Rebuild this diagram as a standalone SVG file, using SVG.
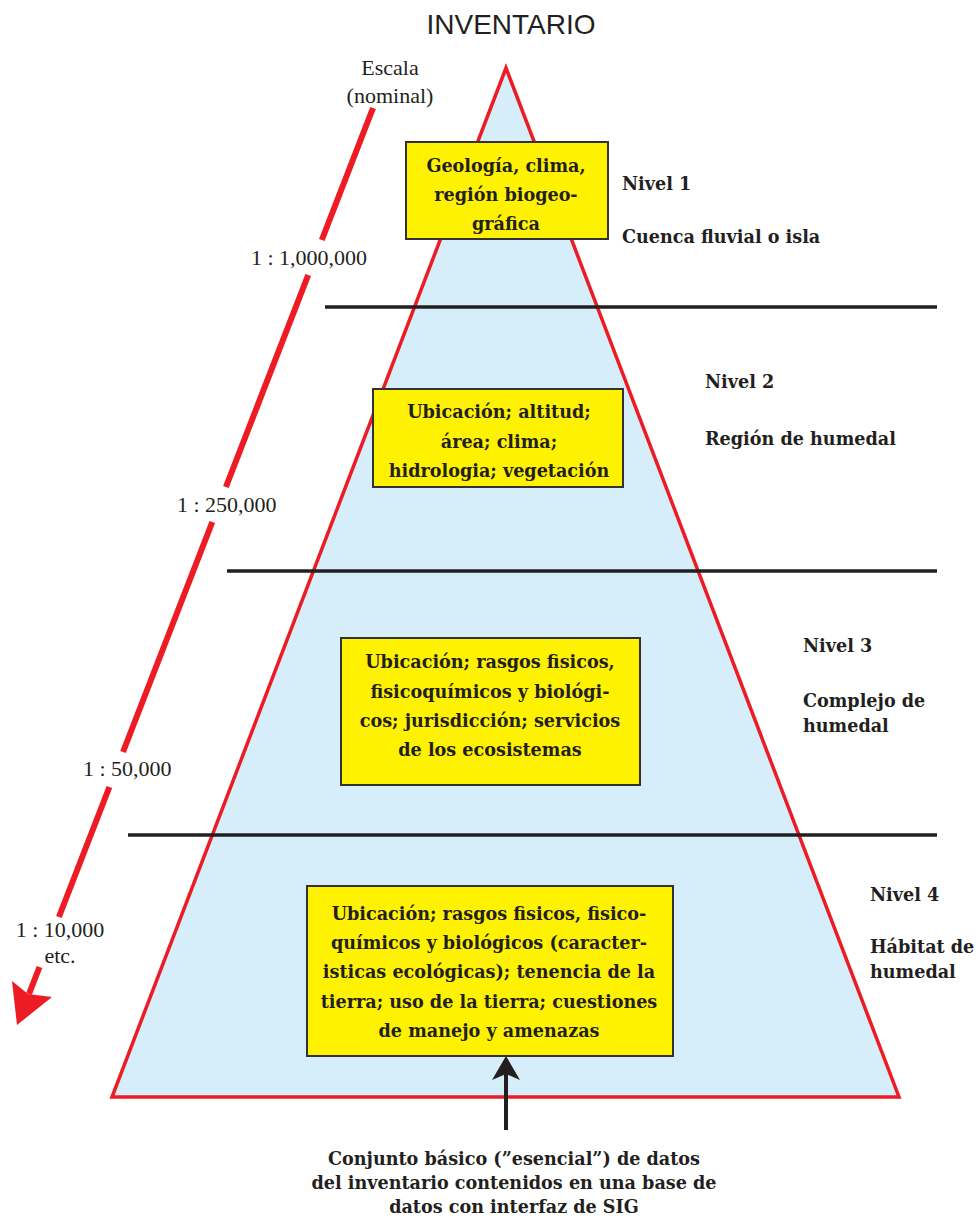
<svg xmlns="http://www.w3.org/2000/svg" width="980" height="1221" viewBox="0 0 980 1221">
<style>
.title{font-family:"Liberation Sans",Arial,sans-serif;font-size:28px;fill:#231f20;text-anchor:middle}
.reg{font-family:"Liberation Serif","Times New Roman",serif;font-size:22px;fill:#231f20}
.bold{font-family:"DejaVu Serif",serif;font-weight:bold;font-size:17.6px;fill:#231f20}
.mid{text-anchor:middle}
.box{fill:#fff200;stroke:#333132;stroke-width:2}
.sep{stroke:#231f20;stroke-width:3.5;fill:none}
.scale{stroke:#ed1c24;stroke-width:6;fill:none}
</style>
<rect width="980" height="1221" fill="#ffffff"/>
<g id="title"><text class="title" x="511" y="34">INVENTARIO</text></g>
<g id="pyramid">
<polygon points="506,68 112,1097 899,1097" fill="#d6edfa" stroke="#ed1c24" stroke-width="3.5" stroke-linejoin="miter"/>
</g>
<g id="connectors">
<line class="sep" x1="325" y1="307" x2="937" y2="307"/>
<line class="sep" x1="227" y1="571" x2="937" y2="571"/>
<line class="sep" x1="128" y1="835" x2="937" y2="835"/>
<line class="scale" x1="373" y1="108" x2="321.8" y2="240"/>
<line class="scale" x1="308.2" y1="275" x2="225.9" y2="487"/>
<line class="scale" x1="212.3" y1="522" x2="123" y2="752"/>
<line class="scale" x1="109.4" y1="787" x2="58.9" y2="917"/>
<line class="scale" x1="39.5" y1="967" x2="29" y2="994"/>
<polygon points="17,1025 12,981 28,994 52,997" fill="#ed1c24"/>
<line x1="506" y1="1130" x2="506" y2="1074" stroke="#231f20" stroke-width="4"/>
<polygon points="506,1056 520,1080 506,1074 492,1080" fill="#231f20"/>
</g>
<g id="scale-labels">
<text class="reg mid" x="390" y="75">Escala</text>
<text class="reg mid" x="390" y="103">(nominal)</text>
<text class="reg" x="251" y="265">1 : 1,000,000</text>
<text class="reg" x="177" y="512">1 : 250,000</text>
<text class="reg" x="83" y="776">1 : 50,000</text>
<text class="reg mid" x="60" y="937">1 : 10,000</text>
<text class="reg mid" x="60" y="963">etc.</text>
</g>
<g id="nivel1">
<rect class="box" x="406" y="142" width="202" height="97"/>
<text class="bold mid" x="506" y="172">Geología, clima,</text>
<text class="bold mid" x="506" y="201">región biogeo-</text>
<text class="bold mid" x="506" y="230">gráfica</text>
<text class="bold" x="622" y="190">Nivel 1</text>
<text class="bold" x="622" y="243">Cuenca fluvial o isla</text>
</g>
<g id="nivel2">
<rect class="box" x="373" y="389" width="250" height="98"/>
<text class="bold mid" x="499" y="418">Ubicación; altitud;</text>
<text class="bold mid" x="499" y="448">área; clima;</text>
<text class="bold mid" x="499" y="477">hidrologia; vegetación</text>
<text class="bold" x="705" y="388">Nivel 2</text>
<text class="bold" x="705" y="445">Región de humedal</text>
</g>
<g id="nivel3">
<rect class="box" x="341" y="638" width="299" height="147"/>
<text class="bold mid" x="490" y="668">Ubicación; rasgos fisicos,</text>
<text class="bold mid" x="490" y="698">fisicoquímicos y biológi-</text>
<text class="bold mid" x="490" y="727">cos; jurisdicción; servicios</text>
<text class="bold mid" x="490" y="756">de los ecosistemas</text>
<text class="bold" x="803" y="652">Nivel 3</text>
<text class="bold" x="803" y="707">Complejo de</text>
<text class="bold" x="803" y="732">humedal</text>
</g>
<g id="nivel4">
<rect class="box" x="307" y="886" width="366" height="170"/>
<text class="bold mid" x="489" y="920">Ubicación; rasgos fisicos, fisico-</text>
<text class="bold mid" x="489" y="949">químicos y biológicos (caracter-</text>
<text class="bold mid" x="489" y="978">isticas ecológicas); tenencia de la</text>
<text class="bold mid" x="489" y="1008">tierra; uso de la tierra; cuestiones</text>
<text class="bold mid" x="489" y="1037">de manejo y amenazas</text>
<text class="bold" x="870" y="901">Nivel 4</text>
<text class="bold" x="870" y="953">Hábitat de</text>
<text class="bold" x="870" y="978">humedal</text>
</g>
<g id="core-data">
<text class="bold mid" x="514" y="1165">Conjunto básico (”esencial”) de datos</text>
<text class="bold mid" x="514" y="1189">del inventario contenidos en una base de</text>
<text class="bold mid" x="514" y="1213">datos con interfaz de SIG</text>
</g>
</svg>
